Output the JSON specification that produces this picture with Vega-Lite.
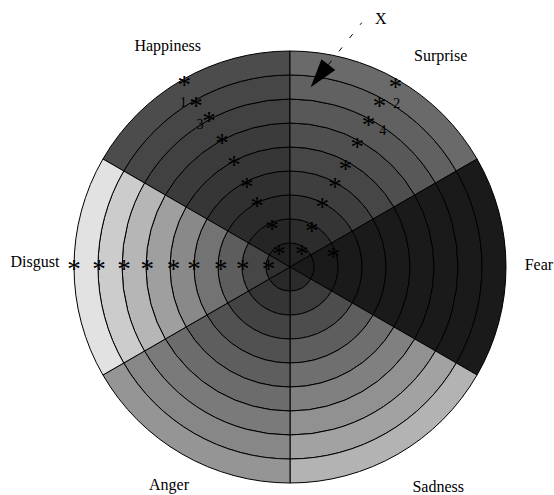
{
  "$schema": "https://vega.github.io/schema/vega-lite/v6.json",
  "width": 528,
  "height": 456,
  "autosize": "none",
  "padding": {"left": 26, "top": 39, "right": 0, "bottom": 0},
  "background": "#ffffff",
  "config": {"view": {"stroke": null}},
  "datasets": {
    "cells": [
      {"s":"Happiness","a0":300,"a1":360,"r0":0,"r1":1,"v":32},
      {"s":"Happiness","a0":300,"a1":360,"r0":1,"r1":2,"v":37},
      {"s":"Happiness","a0":300,"a1":360,"r0":2,"r1":3,"v":43},
      {"s":"Happiness","a0":300,"a1":360,"r0":3,"r1":4,"v":48},
      {"s":"Happiness","a0":300,"a1":360,"r0":4,"r1":5,"v":54},
      {"s":"Happiness","a0":300,"a1":360,"r0":5,"r1":6,"v":59},
      {"s":"Happiness","a0":300,"a1":360,"r0":6,"r1":7,"v":65},
      {"s":"Happiness","a0":300,"a1":360,"r0":7,"r1":8,"v":70},
      {"s":"Happiness","a0":300,"a1":360,"r0":8,"r1":9,"v":76},
      {"s":"Surprise","a0":0,"a1":60,"r0":0,"r1":1,"v":35},
      {"s":"Surprise","a0":0,"a1":60,"r0":1,"r1":2,"v":44},
      {"s":"Surprise","a0":0,"a1":60,"r0":2,"r1":3,"v":53},
      {"s":"Surprise","a0":0,"a1":60,"r0":3,"r1":4,"v":62},
      {"s":"Surprise","a0":0,"a1":60,"r0":4,"r1":5,"v":70},
      {"s":"Surprise","a0":0,"a1":60,"r0":5,"r1":6,"v":79},
      {"s":"Surprise","a0":0,"a1":60,"r0":6,"r1":7,"v":88},
      {"s":"Surprise","a0":0,"a1":60,"r0":7,"r1":8,"v":97},
      {"s":"Surprise","a0":0,"a1":60,"r0":8,"r1":9,"v":106},
      {"s":"Fear","a0":60,"a1":120,"r0":0,"r1":1,"v":26},
      {"s":"Fear","a0":60,"a1":120,"r0":1,"r1":2,"v":26},
      {"s":"Fear","a0":60,"a1":120,"r0":2,"r1":3,"v":26},
      {"s":"Fear","a0":60,"a1":120,"r0":3,"r1":4,"v":26},
      {"s":"Fear","a0":60,"a1":120,"r0":4,"r1":5,"v":26},
      {"s":"Fear","a0":60,"a1":120,"r0":5,"r1":6,"v":26},
      {"s":"Fear","a0":60,"a1":120,"r0":6,"r1":7,"v":26},
      {"s":"Fear","a0":60,"a1":120,"r0":7,"r1":8,"v":26},
      {"s":"Fear","a0":60,"a1":120,"r0":8,"r1":9,"v":26},
      {"s":"Sadness","a0":120,"a1":180,"r0":0,"r1":1,"v":43},
      {"s":"Sadness","a0":120,"a1":180,"r0":1,"r1":2,"v":60},
      {"s":"Sadness","a0":120,"a1":180,"r0":2,"r1":3,"v":77},
      {"s":"Sadness","a0":120,"a1":180,"r0":3,"r1":4,"v":94},
      {"s":"Sadness","a0":120,"a1":180,"r0":4,"r1":5,"v":111},
      {"s":"Sadness","a0":120,"a1":180,"r0":5,"r1":6,"v":128},
      {"s":"Sadness","a0":120,"a1":180,"r0":6,"r1":7,"v":145},
      {"s":"Sadness","a0":120,"a1":180,"r0":7,"r1":8,"v":162},
      {"s":"Sadness","a0":120,"a1":180,"r0":8,"r1":9,"v":179},
      {"s":"Anger","a0":180,"a1":240,"r0":0,"r1":1,"v":40},
      {"s":"Anger","a0":180,"a1":240,"r0":1,"r1":2,"v":53},
      {"s":"Anger","a0":180,"a1":240,"r0":2,"r1":3,"v":67},
      {"s":"Anger","a0":180,"a1":240,"r0":3,"r1":4,"v":81},
      {"s":"Anger","a0":180,"a1":240,"r0":4,"r1":5,"v":94},
      {"s":"Anger","a0":180,"a1":240,"r0":5,"r1":6,"v":108},
      {"s":"Anger","a0":180,"a1":240,"r0":6,"r1":7,"v":122},
      {"s":"Anger","a0":180,"a1":240,"r0":7,"r1":8,"v":135},
      {"s":"Anger","a0":180,"a1":240,"r0":8,"r1":9,"v":149},
      {"s":"Disgust","a0":240,"a1":300,"r0":0,"r1":1,"v":48},
      {"s":"Disgust","a0":240,"a1":300,"r0":1,"r1":2,"v":70},
      {"s":"Disgust","a0":240,"a1":300,"r0":2,"r1":3,"v":93},
      {"s":"Disgust","a0":240,"a1":300,"r0":3,"r1":4,"v":115},
      {"s":"Disgust","a0":240,"a1":300,"r0":4,"r1":5,"v":137},
      {"s":"Disgust","a0":240,"a1":300,"r0":5,"r1":6,"v":159},
      {"s":"Disgust","a0":240,"a1":300,"r0":6,"r1":7,"v":182},
      {"s":"Disgust","a0":240,"a1":300,"r0":7,"r1":8,"v":204},
      {"s":"Disgust","a0":240,"a1":300,"r0":8,"r1":9,"v":226}
    ],
    "stars": [
      {"s":"Happiness","ang":330.4,"r":8.93},
      {"s":"Happiness","ang":330.4,"r":7.92},
      {"s":"Happiness","ang":331.6,"r":7.1},
      {"s":"Happiness","ang":332,"r":6.04},
      {"s":"Happiness","ang":332.2,"r":5.0},
      {"s":"Happiness","ang":332.7,"r":3.94},
      {"s":"Happiness","ang":333.1,"r":3.04},
      {"s":"Happiness","ang":336.8,"r":1.9},
      {"s":"Happiness","ang":327.1,"r":0.84},
      {"s":"Surprise","ang":29.8,"r":8.85},
      {"s":"Surprise","ang":28.4,"r":7.83},
      {"s":"Surprise","ang":28.3,"r":6.91},
      {"s":"Surprise","ang":28.4,"r":5.89},
      {"s":"Surprise","ang":28.6,"r":4.84},
      {"s":"Surprise","ang":28.3,"r":3.96},
      {"s":"Surprise","ang":26.9,"r":2.98},
      {"s":"Surprise","ang":28.7,"r":1.88},
      {"s":"Surprise","ang":34.5,"r":0.86},
      {"s":"Fear","ang":72.4,"r":1.89},
      {"s":"Disgust","ang":270.5,"r":9.0},
      {"s":"Disgust","ang":270.6,"r":7.96},
      {"s":"Disgust","ang":270.7,"r":6.92},
      {"s":"Disgust","ang":270.8,"r":5.95},
      {"s":"Disgust","ang":271.0,"r":4.86},
      {"s":"Disgust","ang":271.2,"r":4.0},
      {"s":"Disgust","ang":271.6,"r":2.89},
      {"s":"Disgust","ang":272.4,"r":1.97},
      {"s":"Disgust","ang":275,"r":0.9}
    ],
    "nums": [
      {"t":"1","ang":326.9,"r":8.14},
      {"t":"3","ang":327.6,"r":7.0},
      {"t":"2","ang":33.3,"r":8.11},
      {"t":"4","ang":34.3,"r":6.86}
    ],
    "labels": [
      {"t":"Happiness","ang":331.0,"r":10.51},
      {"t":"Surprise","ang":35.5,"r":10.81},
      {"t":"Fear","ang":89.5,"r":10.37},
      {"t":"Sadness","ang":146.0,"r":11.04},
      {"t":"Anger","ang":209.0,"r":10.4},
      {"t":"Disgust","ang":271.1,"r":10.63}
    ],
    "arrow": [
      {"x":2.99,"y":10.18},
      {"x":1.6,"y":8.43}
    ],
    "head": [
      {"x":1.23,"y":7.96}
    ],
    "xlabel": [
      {"x":3.78,"y":10.35,"t":"X"}
    ]
  },
  "layer": [
    {
      "data": {"name": "cells"},
      "mark": {"type": "arc", "stroke": "#000000", "strokeWidth": 1},
      "encoding": {
        "theta": {"field": "a0", "type": "quantitative", "stack": null, "scale": {"domain": [0, 360], "range": [0, 6.283185307179586]}},
        "theta2": {"field": "a1"},
        "radius": {"field": "r0", "type": "quantitative", "scale": {"type": "linear", "domain": [0, 9], "range": [0, 216], "zero": true, "nice": false}},
        "radius2": {"field": "r1"},
        "color": {"field": "v", "type": "quantitative", "scale": {"domain": [0, 255], "range": ["#000000", "#ffffff"], "interpolate": "rgb"}, "legend": null}
      }
    },
    {
      "data": {"name": "stars"},
      "mark": {"type": "text", "text": "*", "font": "Liberation Serif", "fontSize": 27, "baseline": "alphabetic", "align": "center", "dy": 13, "color": "#000000"},
      "encoding": {
        "theta": {"field": "ang", "type": "quantitative", "stack": null, "scale": {"domain": [0, 360], "range": [0, 6.283185307179586]}},
        "radius": {"field": "r", "type": "quantitative", "scale": {"type": "linear", "domain": [0, 9], "range": [0, 216], "zero": true, "nice": false}}
      }
    },
    {
      "data": {"name": "nums"},
      "mark": {"type": "text", "font": "Liberation Serif", "fontSize": 14, "baseline": "middle", "align": "center", "color": "#000000"},
      "encoding": {
        "text": {"field": "t"},
        "theta": {"field": "ang", "type": "quantitative", "stack": null, "scale": {"domain": [0, 360], "range": [0, 6.283185307179586]}},
        "radius": {"field": "r", "type": "quantitative", "scale": {"type": "linear", "domain": [0, 9], "range": [0, 216], "zero": true, "nice": false}}
      }
    },
    {
      "data": {"name": "labels"},
      "mark": {"type": "text", "font": "Liberation Serif", "fontSize": 16, "baseline": "middle", "align": "center", "color": "#000000"},
      "encoding": {
        "text": {"field": "t"},
        "theta": {"field": "ang", "type": "quantitative", "stack": null, "scale": {"domain": [0, 360], "range": [0, 6.283185307179586]}},
        "radius": {"field": "r", "type": "quantitative", "scale": {"type": "linear", "domain": [0, 9], "range": [0, 216], "zero": true, "nice": false}}
      }
    },
    {
      "data": {"name": "arrow"},
      "mark": {"type": "line", "color": "#000000", "strokeWidth": 1, "strokeDash": [5, 12]},
      "encoding": {
        "x": {"field": "x", "type": "quantitative", "scale": {"domain": [-11, 11], "nice": false, "zero": false}, "axis": null},
        "y": {"field": "y", "type": "quantitative", "scale": {"domain": [-9.5, 9.5], "nice": false, "zero": false}, "axis": null}
      }
    },
    {
      "data": {"name": "head"},
      "mark": {"type": "point", "shape": "M0,1L-0.61,-1L0.61,-1Z", "size": 829, "angle": 38, "filled": true, "color": "#000000", "opacity": 1},
      "encoding": {
        "x": {"field": "x", "type": "quantitative", "scale": {"domain": [-11, 11], "nice": false, "zero": false}, "axis": null},
        "y": {"field": "y", "type": "quantitative", "scale": {"domain": [-9.5, 9.5], "nice": false, "zero": false}, "axis": null}
      }
    },
    {
      "data": {"name": "xlabel"},
      "mark": {"type": "text", "font": "Liberation Serif", "fontSize": 16, "baseline": "middle", "align": "center", "color": "#000000"},
      "encoding": {
        "text": {"field": "t"},
        "x": {"field": "x", "type": "quantitative", "scale": {"domain": [-11, 11], "nice": false, "zero": false}, "axis": null},
        "y": {"field": "y", "type": "quantitative", "scale": {"domain": [-9.5, 9.5], "nice": false, "zero": false}, "axis": null}
      }
    }
  ]
}
